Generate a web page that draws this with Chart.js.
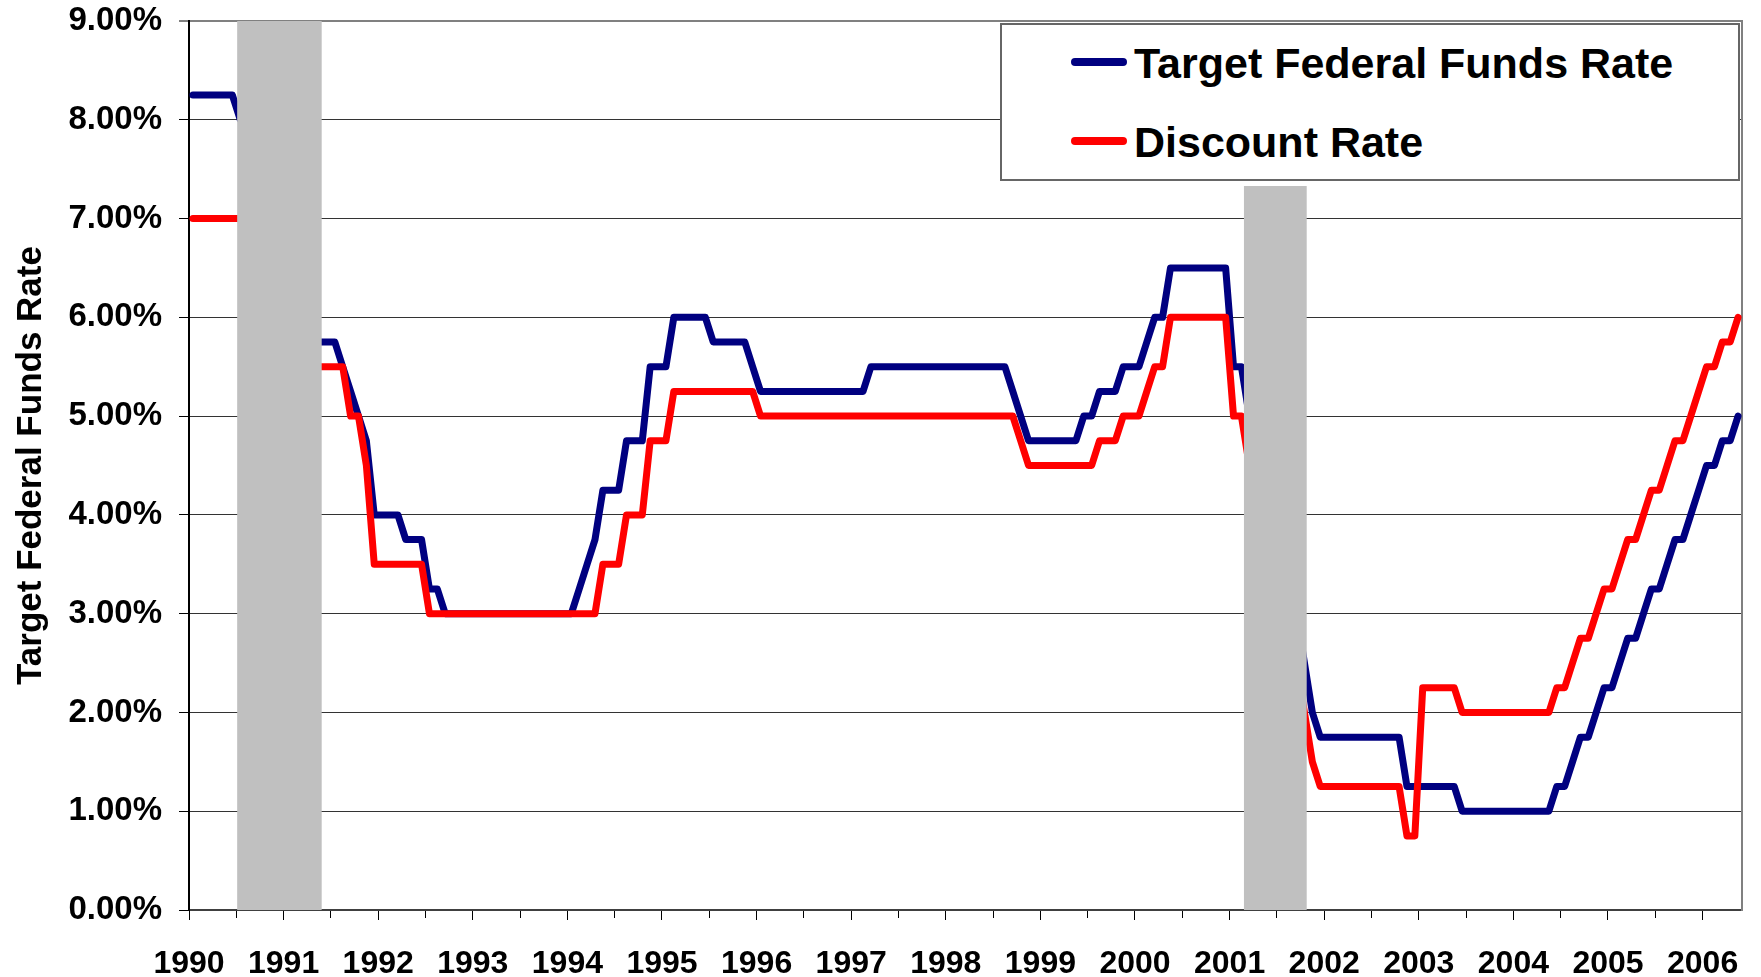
<!DOCTYPE html>
<html>
<head>
<meta charset="utf-8">
<script src="https://cdn.jsdelivr.net/npm/chart.js@4.4.1/dist/chart.umd.min.js"></script>
<style>
  html, body { margin: 0; padding: 0; background: #fff; }
  #wrap { position: relative; width: 1761px; height: 977px; }
  #legend {
    position: absolute; left: 1000px; top: 23px; width: 736px; height: 154px;
    border: 2px solid #666; background: #fff;
    font-family: Arial, "Liberation Sans", sans-serif;
  }
  #legend .swatch { position: absolute; left: 69px; width: 56px; height: 8px; border-radius: 4px; }
  #legend .text { position: absolute; left: 132px; font-size: 43px; font-weight: bold; line-height: 43px; color: #000; white-space: nowrap; }
</style>
</head>
<body>
<div id="wrap">
  <canvas id="chart"></canvas>
  <div id="legend"></div>
</div>
<script>
// x axis: one point per month, Jan 1990 .. May 2006 (end-of-month values)
const yearLabels = ['1990', '1991', '1992', '1993', '1994', '1995', '1996', '1997', '1998',
  '1999', '2000', '2001', '2002', '2003', '2004', '2005', '2006'];

const fedFundsRate = [
  8.25, 8.25, 8.25, 8.25, 8.25, 8.25, 8.00, 8.00, 8.00, 7.75, 7.50, 7.00, // 1990
  6.75, 6.25, 6.00, 5.75, 5.75, 5.75, 5.75, 5.50, 5.25, 5.00, 4.75, 4.00, // 1991
  4.00, 4.00, 4.00, 3.75, 3.75, 3.75, 3.25, 3.25, 3.00, 3.00, 3.00, 3.00, // 1992
  3.00, 3.00, 3.00, 3.00, 3.00, 3.00, 3.00, 3.00, 3.00, 3.00, 3.00, 3.00, // 1993
  3.00, 3.25, 3.50, 3.75, 4.25, 4.25, 4.25, 4.75, 4.75, 4.75, 5.50, 5.50, // 1994
  5.50, 6.00, 6.00, 6.00, 6.00, 6.00, 5.75, 5.75, 5.75, 5.75, 5.75, 5.50, // 1995
  5.25, 5.25, 5.25, 5.25, 5.25, 5.25, 5.25, 5.25, 5.25, 5.25, 5.25, 5.25, // 1996
  5.25, 5.25, 5.50, 5.50, 5.50, 5.50, 5.50, 5.50, 5.50, 5.50, 5.50, 5.50, // 1997
  5.50, 5.50, 5.50, 5.50, 5.50, 5.50, 5.50, 5.50, 5.25, 5.00, 4.75, 4.75, // 1998
  4.75, 4.75, 4.75, 4.75, 4.75, 5.00, 5.00, 5.25, 5.25, 5.25, 5.50, 5.50, // 1999
  5.50, 5.75, 6.00, 6.00, 6.50, 6.50, 6.50, 6.50, 6.50, 6.50, 6.50, 6.50, // 2000
  5.50, 5.50, 5.00, 4.50, 4.00, 3.75, 3.75, 3.50, 3.00, 2.50, 2.00, 1.75, // 2001
  1.75, 1.75, 1.75, 1.75, 1.75, 1.75, 1.75, 1.75, 1.75, 1.75, 1.25, 1.25, // 2002
  1.25, 1.25, 1.25, 1.25, 1.25, 1.00, 1.00, 1.00, 1.00, 1.00, 1.00, 1.00, // 2003
  1.00, 1.00, 1.00, 1.00, 1.00, 1.25, 1.25, 1.50, 1.75, 1.75, 2.00, 2.25, // 2004
  2.25, 2.50, 2.75, 2.75, 3.00, 3.25, 3.25, 3.50, 3.75, 3.75, 4.00, 4.25, // 2005
  4.50, 4.50, 4.75, 4.75, 5.00                                            // 2006
];

const discountRate = [
  7.00, 7.00, 7.00, 7.00, 7.00, 7.00, 7.00, 7.00, 7.00, 7.00, 7.00, 6.50, // 1990
  6.50, 6.00, 6.00, 5.50, 5.50, 5.50, 5.50, 5.50, 5.00, 5.00, 4.50, 3.50, // 1991
  3.50, 3.50, 3.50, 3.50, 3.50, 3.50, 3.00, 3.00, 3.00, 3.00, 3.00, 3.00, // 1992
  3.00, 3.00, 3.00, 3.00, 3.00, 3.00, 3.00, 3.00, 3.00, 3.00, 3.00, 3.00, // 1993
  3.00, 3.00, 3.00, 3.00, 3.50, 3.50, 3.50, 4.00, 4.00, 4.00, 4.75, 4.75, // 1994
  4.75, 5.25, 5.25, 5.25, 5.25, 5.25, 5.25, 5.25, 5.25, 5.25, 5.25, 5.25, // 1995
  5.00, 5.00, 5.00, 5.00, 5.00, 5.00, 5.00, 5.00, 5.00, 5.00, 5.00, 5.00, // 1996
  5.00, 5.00, 5.00, 5.00, 5.00, 5.00, 5.00, 5.00, 5.00, 5.00, 5.00, 5.00, // 1997
  5.00, 5.00, 5.00, 5.00, 5.00, 5.00, 5.00, 5.00, 5.00, 4.75, 4.50, 4.50, // 1998
  4.50, 4.50, 4.50, 4.50, 4.50, 4.50, 4.50, 4.75, 4.75, 4.75, 5.00, 5.00, // 1999
  5.00, 5.25, 5.50, 5.50, 6.00, 6.00, 6.00, 6.00, 6.00, 6.00, 6.00, 6.00, // 2000
  5.00, 5.00, 4.50, 4.00, 3.50, 3.25, 3.25, 3.00, 2.50, 2.00, 1.50, 1.25, // 2001
  1.25, 1.25, 1.25, 1.25, 1.25, 1.25, 1.25, 1.25, 1.25, 1.25, 0.75, 0.75, // 2002
  2.25, 2.25, 2.25, 2.25, 2.25, 2.00, 2.00, 2.00, 2.00, 2.00, 2.00, 2.00, // 2003
  2.00, 2.00, 2.00, 2.00, 2.00, 2.25, 2.25, 2.50, 2.75, 2.75, 3.00, 3.25, // 2004
  3.25, 3.50, 3.75, 3.75, 4.00, 4.25, 4.25, 4.50, 4.75, 4.75, 5.00, 5.25, // 2005
  5.50, 5.50, 5.75, 5.75, 6.00                                            // 2006
];

// recession shading, in months from Jan 1990, and the height of each band (%)
const recessionStart = [6.1, 133.8];
const recessionEnd = [16.85, 141.8];
const recessionTop = [9, 7.33];

const seriesNames = ['Target Federal Funds Rate', 'Discount Rate'];
const seriesColors = ['#000080', '#ff0000'];

const FONT = 'Arial, "Liberation Sans", sans-serif';
Chart.defaults.font.family = FONT;
Chart.defaults.color = '#000';

function toPoints(vals) {
  return vals.map((v, i) => ({ x: i + 0.5, y: v }));
}

function lineSet(i, vals, order) {
  return {
    label: seriesNames[i],
    data: toPoints(vals),
    borderColor: seriesColors[i],
    backgroundColor: seriesColors[i],
    borderWidth: 7,
    borderJoinStyle: 'round',
    borderCapStyle: 'round',
    pointRadius: 0,
    tension: 0,
    fill: false,
    order: order,
  };
}

const shadeSets = recessionStart.map((s, i) => ({
  label: 'recession',
  data: [{ x: s, y: recessionTop[i] }, { x: recessionEnd[i], y: recessionTop[i] }],
  borderColor: 'rgba(0,0,0,0)',
  borderWidth: 0,
  backgroundColor: '#c0c0c0',
  pointRadius: 0,
  fill: 'origin',
  order: 0,
}));

new Chart(document.getElementById('chart'), {
  type: 'line',
  data: {
    datasets: [lineSet(0, fedFundsRate, 2), lineSet(1, discountRate, 1)].concat(shadeSets),
  },
  options: {
    responsive: true,
    maintainAspectRatio: false,
    animation: false,
    layout: { padding: { top: 21, left: 0, right: 0, bottom: 0 } },
    plugins: {
      legend: { display: false },
      tooltip: { enabled: false },
    },
    scales: {
      x: {
        type: 'linear',
        min: 0,
        max: fedFundsRate.length,
        afterFit: s => {
          s.height = 67;
          s.paddingLeft = 0;
          s.paddingRight = 0;
        },
        grid: {
          drawOnChartArea: false,
          tickLength: 10,
          tickColor: '#000',
          tickWidth: 1,
          tickBorderDash: c => (c.tick && c.tick.value % 12 === 0) ? [] : [7, 10],
        },
        border: { color: '#404040', width: 2 },
        ticks: {
          stepSize: 6,
          autoSkip: false,
          includeBounds: false,
          maxRotation: 0,
          padding: 25,
          font: { size: 32, weight: 'bold' },
          callback: v => (v % 12 === 0 ? yearLabels[v / 12] : ''),
        },
      },
      y: {
        min: 0,
        max: 9,
        afterFit: s => {
          s.width = 189;
          s.paddingTop = 0;
          s.paddingBottom = 0;
        },
        grid: {
          color: c => (c.tick.value === 9 ? '#808080' : '#333'),
          lineWidth: c => (c.tick.value === 9 ? 2 : 1),
          tickLength: 10,
          tickColor: '#000',
          tickWidth: 1,
        },
        border: { color: '#000', width: 2 },
        ticks: {
          stepSize: 1,
          padding: 17,
          font: { size: 33, weight: 'bold' },
          callback: v => v.toFixed(2) + '%',
        },
        title: {
          display: true,
          text: 'Target Federal Funds Rate',
          font: { size: 35, weight: 'bold' },
          padding: { top: 10, bottom: 0 },
        },
      },
      y2: {
        position: 'right',
        afterFit: s => {
          s.width = 19;
          s.paddingTop = 0;
          s.paddingBottom = 0;
        },
        grid: { drawOnChartArea: false, drawTicks: false },
        ticks: { display: false },
        border: { color: '#808080', width: 2 },
      },
    },
  },
});

// legend drawn as html over the plot area
const legend = document.getElementById('legend');
const rows = [{ swatchTop: 33, textTop: 17 }, { swatchTop: 112, textTop: 96 }];
seriesNames.forEach((name, i) => {
  const sw = document.createElement('div');
  sw.className = 'swatch';
  sw.style.top = rows[i].swatchTop + 'px';
  sw.style.background = seriesColors[i];
  const tx = document.createElement('div');
  tx.className = 'text';
  tx.style.top = rows[i].textTop + 'px';
  tx.textContent = name;
  legend.appendChild(sw);
  legend.appendChild(tx);
});
</script>
</body>
</html>
